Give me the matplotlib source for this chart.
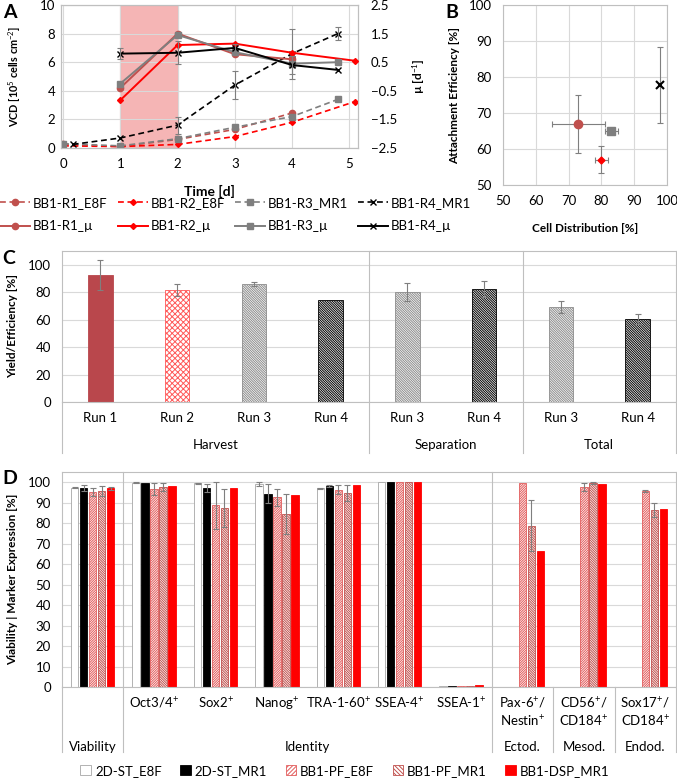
import numpy as np
import matplotlib
matplotlib.use('Agg')
import matplotlib.pyplot as plt
import matplotlib.transforms as mtransforms
from matplotlib.lines import Line2D
from matplotlib.patches import Patch

plt.rcParams['font.family'] = ['Lato', 'DejaVu Sans']
plt.rcParams['mathtext.fontset'] = 'custom'
plt.rcParams['mathtext.rm'] = 'Lato'
plt.rcParams['mathtext.it'] = 'Lato:italic'
plt.rcParams['mathtext.bf'] = 'Lato:bold'
plt.rcParams['font.size'] = 9.5
plt.rcParams['hatch.linewidth'] = 0.7

GRID = '#D9D9D9'
SPINE = '#BFBFBF'
ERR = '#7F7F7F'
C_R1 = '#C0504D'
C_R2 = '#FF0000'
C_R3 = '#7F7F7F'
C_R4 = '#000000'
FS = 9.5
LFS = 8.5

# ---- A: viable cell density (dashed) and growth rate (solid)
t_r1 = [0, 1, 2, 3, 4]
vcd_r1 = [0.25, 0.1, 0.6, 1.3, 2.45]
t_r2 = [0, 1, 2, 3, 4, 5.1]
vcd_r2 = [0.15, 0.1, 0.25, 0.8, 1.8, 3.25]
t_r3 = [0, 1, 2, 3, 4, 4.8]
vcd_r3 = [0.3, 0.15, 0.65, 1.45, 2.2, 3.4]
t_r4 = [0.17, 1, 2, 3, 4, 4.8]
vcd_r4 = [0.25, 0.7, 1.6, 4.4, 6.6, 8.0]
vcd_r4_err = [0, 0, 0.6, 1.0, 1.75, 0.45]

mu_t_r1 = [1, 2, 3, 4]
mu_r1 = [-0.4, 1.5, 0.78, 0.6]
mu_t_r2 = [1, 2, 3, 4, 5.1]
mu_r2 = [-0.83, 1.1, 1.15, 0.83, 0.55]
mu_t_r3 = [1, 2, 3, 4, 4.8]
mu_r3 = [-0.25, 1.45, 0.85, 0.45, 0.5]
mu_t_r4 = [1, 2, 3, 4, 4.8]
mu_r4 = [0.8, 0.83, 1.0, 0.4, 0.23]
mu_r4_err = [0.2, 0.4, 0.15, 0.3, 0]

# ---- B: cell distribution vs attachment efficiency (R1, R2, R3, R4)
dist = [73, 80, 83, 98]
dist_err = [8, 2, 2, 0]
attach = [67, 57, 65, 77.8]
attach_err = [8, 3.7, 0.5, 10.5]

# ---- C: yields
c_runs = ['Run 1', 'Run 2', 'Run 3', 'Run 4', 'Run 3', 'Run 4', 'Run 3', 'Run 4']
c_groups = ['Harvest', 'Separation', 'Total']
c_vals = [92.5, 81.5, 86, 74, 80, 82, 69, 60.5]
c_err = [11, 4.2, 1.5, 0, 6.5, 5.8, 4.5, 3.5]

# ---- D: viability / marker expression
d_cats = ['', 'Oct3/4$^{+}$', 'Sox2$^{+}$', 'Nanog$^{+}$', 'TRA-1-60$^{+}$',
          'SSEA-4$^{+}$', 'SSEA-1$^{+}$', 'Pax-6$^{+}$/\nNestin$^{+}$',
          'CD56$^{+}$/\nCD184$^{+}$', 'Sox17$^{+}$/\nCD184$^{+}$']
d_groups = ['Viability', 'Identity', 'Ectod.', 'Mesod.', 'Endod.']
d_series = ['2D-ST_E8F', '2D-ST_MR1', 'BB1-PF_E8F', 'BB1-PF_MR1', 'BB1-DSP_MR1']
nan = np.nan
st_e8f = [97.3, 99.8, 99.5, 99.1, 97.1, 99.9, 0.3, nan, nan, nan]
st_e8f_err = [0.3, 0.2, 0.2, 1.0, 0.2, 0, 0, 0, 0, 0]
st_mr1 = [97.3, 99.5, 97.2, 94.5, 98.2, 100, 0.5, nan, nan, nan]
st_mr1_err = [1.5, 0, 1.8, 4.4, 0.4, 0, 0, 0, 0, 0]
pf_e8f = [95.4, 96.6, 88.7, 92.7, 96.4, 100, 0.3, 99.4, 97.6, 95.7]
pf_e8f_err = [2.0, 3.0, 11.3, 4.2, 2.2, 0, 0, 0, 1.8, 0.3]
pf_mr1 = [95.9, 97.5, 87.4, 84.3, 94.6, 100, 0.5, 78.7, 99.5, 86.4]
pf_mr1_err = [2.5, 2.0, 9.5, 9.8, 4.0, 0, 0, 12.5, 0.4, 3.6]
dsp_mr1 = [97.0, 98.1, 97.4, 93.6, 98.8, 100, 0.8, 66.4, 99.3, 86.7]
dsp_mr1_err = [0.6, 0, 0, 0, 0, 0, 0, 0, 0, 0]

W, H = 677, 778
HATCH_DN = '\\' * 14
HATCH_UP = '/' * 14


def px_axes(l, t, r, b):
    return [l / W, 1 - b / H, (r - l) / W, (b - t) / H]


def style_spines(ax):
    for s in ax.spines.values():
        s.set_color(SPINE)
        s.set_linewidth(0.8)


def err_only(ax, x, y, e, **kw):
    x = np.asarray(x, float)
    y = np.asarray(y, float)
    e = np.asarray(e, float)
    m = (e > 0) & ~np.isnan(y)
    ax.errorbar(x[m], y[m], yerr=e[m], fmt='none', ecolor=ERR, elinewidth=0.8,
                capsize=2, capthick=0.8, zorder=5, **kw)


fig = plt.figure(figsize=(W / 100, H / 100), dpi=100)

# ================= A =================
axA = fig.add_axes(px_axes(61, 5, 358, 148))
axA.axvspan(1, 2, facecolor='#F5B5B5', edgecolor='#E99A9A', lw=0.8, zorder=0)
dash = (0, (3.5, 2.2))
hE1, = axA.plot(t_r1, vcd_r1, ls=dash, lw=1.2, color=C_R1, marker='o', ms=4.5, zorder=3)
hE2, = axA.plot(t_r2, vcd_r2, ls=dash, lw=1.2, color=C_R2, marker='D', ms=3, zorder=3)
hE3, = axA.plot(t_r3, vcd_r3, ls=dash, lw=1.2, color=C_R3, marker='s', ms=4.5, zorder=3)
hE4, = axA.plot(t_r4, vcd_r4, ls=dash, lw=1.2, color=C_R4, marker='x', ms=5, mew=1, zorder=3)
err_only(axA, t_r4, vcd_r4, vcd_r4_err)
axA.set_xlim(-0.035, 5.15)
axA.set_ylim(0, 10)
axA.set_xticks(range(6))
axA.set_yticks(range(0, 11, 2))
axA.grid(True, color=GRID, lw=0.8)
axA.set_axisbelow(True)
axA.tick_params(length=0, labelsize=FS)
axA.tick_params(axis='y', pad=4)
axA.tick_params(axis='x', pad=7)
axA.set_xlabel('Time [d]', fontweight='bold', fontsize=10)
axA.xaxis.set_label_coords(0.5, -0.26)
axA.set_ylabel('VCD [10$^{5}$ cells cm$^{-2}$]', fontweight='bold', fontsize=7.8)
axA.yaxis.set_label_coords(-0.128, 0.5)
style_spines(axA)

ax2 = axA.twinx()
hM1, = ax2.plot(mu_t_r1, mu_r1, lw=1.4, color=C_R1, marker='o', ms=4.5, zorder=4)
hM2, = ax2.plot(mu_t_r2, mu_r2, lw=1.4, color=C_R2, marker='D', ms=3, zorder=4)
hM3, = ax2.plot(mu_t_r3, mu_r3, lw=1.4, color=C_R3, marker='s', ms=4.5, zorder=4)
hM4, = ax2.plot(mu_t_r4, mu_r4, lw=1.4, color=C_R4, marker='x', ms=5, mew=1, zorder=4)
err_only(ax2, mu_t_r4, mu_r4, mu_r4_err)
ax2.set_ylim(-2.5, 2.5)
ax2.set_yticks([-2.5, -1.5, -0.5, 0.5, 1.5, 2.5])
ax2.tick_params(length=0, pad=9, labelsize=FS)
ax2.set_ylabel('µ [d$^{-1}$]', fontweight='bold', fontsize=LFS)
ax2.yaxis.set_label_coords(1.175, 0.5)
style_spines(ax2)

handles = [hE1, hM1, hE2, hM2, hE3, hM3, hE4, hM4]
labels = ['BB1-R1_E8F', 'BB1-R1_µ', 'BB1-R2_E8F', 'BB1-R2_µ',
          'BB1-R3_MR1', 'BB1-R3_µ', 'BB1-R4_MR1', 'BB1-R4_µ']
fig.legend(handles, labels, loc='upper left', bbox_to_anchor=(0.0, 1 - 197 / H),
           ncol=4, frameon=False, handlelength=2.3, handletextpad=0.2,
           columnspacing=0.75, labelspacing=0.85, borderpad=0, borderaxespad=0,
           fontsize=FS)

# ================= B =================
axB = fig.add_axes(px_axes(503, 5, 667, 185))
b_style = [(C_R1, 'o', 6), (C_R2, 'D', 3.5), (C_R3, 's', 5.5), (C_R4, 'x', 6)]
for xv, xe, yv, ye, (c, mk, ms) in zip(dist, dist_err, attach, attach_err, b_style):
    axB.errorbar(xv, yv, xerr=xe if xe > 0 else None, yerr=ye if ye > 0 else None,
                 fmt='none', ecolor=ERR, elinewidth=0.8, capsize=2.5, capthick=0.8, zorder=3)
    axB.plot(xv, yv, marker=mk, color=c, ms=ms, mew=1.5 if mk == 'x' else 1, ls='none', zorder=4)
axB.set_xlim(50, 100)
axB.set_ylim(50, 100)
axB.set_xticks(range(50, 101, 10))
axB.set_yticks(range(50, 101, 10))
axB.grid(True, color=GRID, lw=0.8)
axB.set_axisbelow(True)
axB.tick_params(length=0, labelsize=FS)
axB.tick_params(axis='y', pad=8)
axB.tick_params(axis='x', pad=7)
axB.set_xlabel('Cell Distribution [%]', fontweight='bold', fontsize=LFS)
axB.xaxis.set_label_coords(0.5, -0.21)
axB.set_ylabel('Attachment Efficiency [%]', fontweight='bold', fontsize=LFS)
axB.yaxis.set_label_coords(-0.262, 0.5)
style_spines(axB)

# ================= C =================
axC = fig.add_axes(px_axes(62, 251, 676, 402))
xc = np.arange(len(c_vals))
bars = axC.bar(xc, c_vals, width=0.32, zorder=2)
c_style = [('#B9474C', '#B9474C', ''), ('white', '#FF5A5A', 'xxxxxx'),
           ('white', '#8C8C8C', HATCH_DN), ('white', '#000000', HATCH_DN),
           ('white', '#8C8C8C', HATCH_DN), ('white', '#000000', HATCH_DN),
           ('white', '#8C8C8C', HATCH_DN), ('white', '#000000', HATCH_DN)]
for b, (fc, ec, ht) in zip(bars, c_style):
    b.set_facecolor(fc)
    b.set_edgecolor(ec)
    b.set_hatch(ht)
    b.set_linewidth(0.6)
err_only(axC, xc, c_vals, c_err)
axC.set_xlim(-0.5, len(c_vals) - 0.5)
axC.set_ylim(0, 110)
axC.set_yticks(range(0, 101, 20))
axC.set_xticks(xc, c_runs)
axC.yaxis.grid(True, color=GRID, lw=0.8)
axC.set_axisbelow(True)
axC.tick_params(length=0, labelsize=FS)
axC.tick_params(axis='y', pad=8)
axC.tick_params(axis='x', pad=7)
axC.set_ylabel('Yield/Efficiency [%]', fontweight='bold', fontsize=LFS)
axC.yaxis.set_label_coords(-0.0715, 0.5)
style_spines(axC)
nC = len(c_vals)
low_C = (402 - 453) / (402 - 251)
for xs, top in [(-0.5, 0), (3.5, 1), (5.5, 1), (nC - 0.5, 0)]:
    f = (xs + 0.5) / nC
    axC.add_line(Line2D([f, f], [low_C, top], transform=axC.transAxes, color=SPINE,
                        lw=0.8, clip_on=False))
trC = mtransforms.blended_transform_factory(axC.transData, axC.transAxes)
for g, xm in zip(c_groups, [1.5, 4.5, 6.5]):
    axC.text(xm, (402 - 445) / (402 - 251), g, transform=trC, ha='center', va='center',
             fontsize=FS)

# ================= D =================
axD = fig.add_axes(px_axes(62, 472, 676, 687))
nD = len(d_cats)
xd = np.arange(nD)
pitch, bw = 0.146, 0.12
d_vals = [st_e8f, st_mr1, pf_e8f, pf_mr1, dsp_mr1]
d_errs = [st_e8f_err, st_mr1_err, pf_e8f_err, pf_mr1_err, dsp_mr1_err]
d_style = [('white', '#A6A6A6', ''), ('black', 'black', ''),
           ('white', '#E25C5C', HATCH_UP), ('white', '#C0504D', HATCH_DN),
           ('#FF0000', '#FF0000', '')]
leg_handles = []
for k, (vals, errs, (fc, ec, ht), name) in enumerate(zip(d_vals, d_errs, d_style, d_series)):
    xs = xd + (k - 2) * pitch
    axD.bar(xs, vals, width=bw, facecolor=fc, edgecolor=ec, hatch=ht, lw=0.6, zorder=2)
    err_only(axD, xs, vals, errs)
    leg_handles.append(Patch(facecolor=fc, edgecolor=ec, hatch=ht[:8], lw=0.6, label=name))
axD.set_xlim(-0.5, nD - 0.5)
axD.set_ylim(0, 105)
axD.set_yticks(range(0, 101, 10))
axD.set_xticks(xd, d_cats)
axD.yaxis.grid(True, color=GRID, lw=0.8)
axD.set_axisbelow(True)
axD.tick_params(length=0, labelsize=FS)
axD.tick_params(axis='y', pad=8)
axD.tick_params(axis='x', pad=6)
axD.set_ylabel('Viability | Marker Expression [%]', fontweight='bold', fontsize=LFS)
axD.yaxis.set_label_coords(-0.0715, 0.5)
style_spines(axD)
low_D = (687 - 752) / (687 - 472)
for xs, top in [(-0.5, 0), (0.5, 1), (6.5, 1), (7.5, 0), (8.5, 0), (nD - 0.5, 0)]:
    f = (xs + 0.5) / nD
    axD.add_line(Line2D([f, f], [low_D, top], transform=axD.transAxes, color=SPINE,
                        lw=0.8, clip_on=False))
trD = mtransforms.blended_transform_factory(axD.transData, axD.transAxes)
for g, xm in zip(d_groups, [0, 3.5, 7, 8, 9]):
    axD.text(xm, (687 - 747) / (687 - 472), g, transform=trD, ha='center', va='center',
             fontsize=FS)
fig.legend(handles=leg_handles, loc='center', bbox_to_anchor=(345 / W, 1 - 771 / H),
           ncol=5, frameon=False, handlelength=0.8, handleheight=0.8,
           handletextpad=0.3, columnspacing=1.4, borderpad=0, fontsize=FS)

# panel letters
for letter, (px, py) in zip('ABCD', [(10, 12), (452, 12), (9, 258), (10, 478)]):
    fig.text(px / W, 1 - py / H, letter, fontsize=14, fontweight='bold',
             ha='center', va='center')

fig.savefig('out.png', dpi=100)
